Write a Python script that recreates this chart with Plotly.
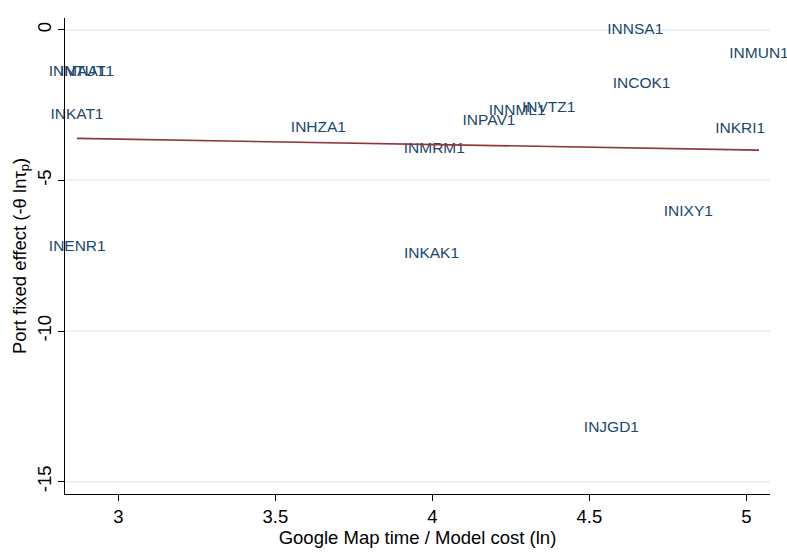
import numpy as np
import plotly.graph_objects as go

# Port codes with log ratio of Google Maps time to model cost, and port fixed effects
ports = ["INNSA1", "INMUN1", "INCOK1", "INKRI1", "INIXY1", "INJGD1", "INKAK1",
         "INMRM1", "INHZA1", "INPAV1", "INNML1", "INVTZ1", "INKAT1", "INENR1",
         "INMAA1", "INTUT1"]
log_ratio = [4.646, 5.040, 4.666, 4.980, 4.815, 4.570, 3.997,
             4.006, 3.637, 4.180, 4.270, 4.370, 2.868, 2.869,
             2.870, 2.900]
fixed_effect = [0.00, -0.81, -1.79, -3.29, -6.06, -13.22, -7.46,
                -3.97, -3.26, -3.03, -2.70, -2.61, -2.84, -7.23,
                -1.40, -1.40]

x_ticks = [3, 3.5, 4, 4.5, 5]
y_ticks = [0, -5, -10, -15]

x = np.array(log_ratio)
y = np.array(fixed_effect)
slope, intercept = np.polyfit(x, y, 1)
fit_x = np.array([x.min(), x.max()])
fit_y = intercept + slope * fit_x

FONT = "Liberation Sans, Arial, Helvetica, sans-serif"

fig = go.Figure()
fig.add_trace(go.Scatter(
    x=log_ratio, y=fixed_effect, mode="text", text=ports,
    textposition="middle center", cliponaxis=False,
    textfont=dict(family=FONT, size=15.5, color="#1a476f"),
    showlegend=False, hoverinfo="text",
))
fig.add_trace(go.Scatter(
    x=fit_x, y=fit_y, mode="lines", cliponaxis=False,
    line=dict(color="#90353b", width=1.6),
    showlegend=False,
))

fig.update_layout(
    width=787, height=554,
    margin=dict(l=65, r=17, t=18, b=51),
    paper_bgcolor="white", plot_bgcolor="white",
    font=dict(family=FONT, size=18.5, color="black"),
)
fig.update_xaxes(
    range=[2.83, 5.075], tickvals=x_ticks, ticktext=[str(v) for v in x_ticks],
    showgrid=False, zeroline=False,
    showline=True, linecolor="black", linewidth=1.2,
    ticks="outside", ticklen=6, tickcolor="black",
    tickfont=dict(size=18.5),
    title=dict(text="Google Map time / Model cost (ln)", font=dict(size=18.5), standoff=2),
)
fig.update_yaxes(
    range=[-15.41, 0.39], tickvals=y_ticks, ticktext=[str(v) for v in y_ticks],
    showgrid=True, gridcolor="#eaf2f3", gridwidth=1.5, zeroline=False,
    showline=True, linecolor="black", linewidth=1.2,
    ticks="outside", ticklen=6, tickcolor="black", tickangle=-90,
    tickfont=dict(size=18.5),
    title=dict(text="Port fixed effect (-θ lnτ<sub>p</sub>)", font=dict(size=18.5), standoff=2),
)

fig.write_html("out.html")
